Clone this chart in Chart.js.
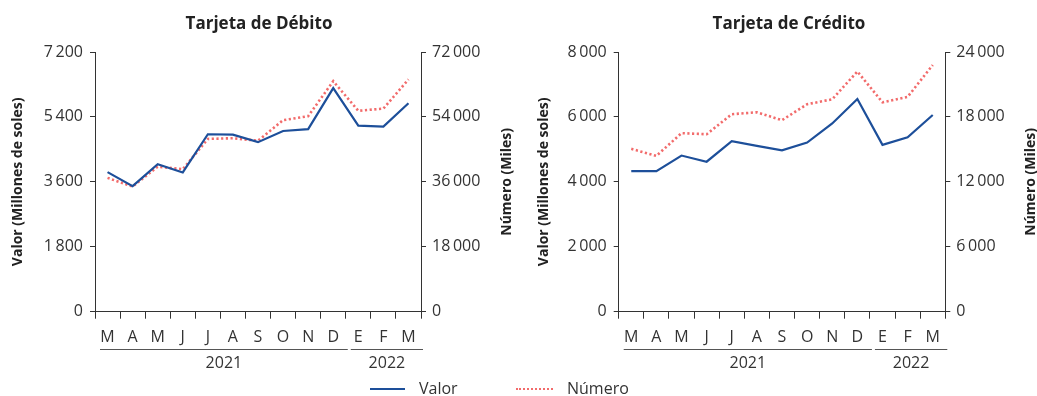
<!DOCTYPE html>
<html><head><meta charset="utf-8">
<script src="https://cdn.jsdelivr.net/npm/chart.js@4.4.1/dist/chart.umd.min.js"></script>
<style>
html,body{margin:0;padding:0;background:#fff;}
#wrap{position:relative;width:1037px;height:396px;overflow:hidden;font-family:"Open Sans",sans-serif;}
canvas{position:absolute;top:0;}
#c1{left:0;} #c2{left:518px;}
.leg{position:absolute;font-size:16px;color:#333;line-height:20px;top:378px;white-space:nowrap;}
.sw{position:absolute;height:0;}
</style></head><body>
<div id="wrap">
<canvas id="c1" width="518" height="396"></canvas>
<canvas id="c2" width="519" height="396"></canvas>
<div class="sw" style="left:370px;width:35px;border-top:2px solid #1d4f9a;top:388px"></div>
<div class="leg" style="left:419px">Valor</div>
<div class="sw" style="left:516px;width:37px;border-top:2px dotted #f26b6b;top:388px"></div>
<div class="leg" style="left:567px">Número</div>
</div>
<script>
const months = ['M','A','M','J','J','A','S','O','N','D','E','F','M'];
const years = ['2021','2022'];
const yearStart = [0, 10];
const yearEnd = [9, 12];

const debitoValor  = [3870,3480,4090,3860,4920,4910,4700,5010,5060,6200,5160,5130,5780];
const debitoNumero = [37100,34700,40200,39500,47900,48100,47400,53100,54200,63900,55700,56300,64400];
const creditoValor  = [4330,4330,4810,4620,5250,5110,4970,5210,5800,6550,5140,5370,6060];
const creditoNumero = [15050,14400,16500,16400,18250,18430,17700,19170,19630,22200,19350,19850,22800];

const debitoValorTicks  = [0,1800,3600,5400,7200];
const debitoNumeroTicks = [0,18000,36000,54000,72000];
const creditoValorTicks  = [0,2000,4000,6000,8000];
const creditoNumeroTicks = [0,6000,12000,18000,24000];

const FAM = '"Open Sans", sans-serif';
const TXT = '#333';

function fmt(v){
  v = Math.round(v);
  if (v < 1000) return String(v);
  const th = Math.floor(v/1000), r = v % 1000;
  return th + '\u2009' + String(r).padStart(3,'0');
}

const decor = {
  id:'decor',
  afterDraw(chart, args, o){
    const ctx = chart.ctx, xs = chart.scales.x, ca = chart.chartArea;
    ctx.save();
    ctx.fillStyle = '#222';
    ctx.font = 'bold 17px ' + FAM;
    ctx.textAlign = 'center'; ctx.textBaseline = 'middle';
    ctx.fillText(o.title, o.titleX, 24);
    ctx.save();
    ctx.translate(o.rTitleX, (ca.top + ca.bottom)/2);
    ctx.rotate(-Math.PI/2);
    ctx.font = 'bold 14px ' + FAM;
    ctx.fillText('Número (Miles)', 0, 0);
    ctx.restore();
    ctx.strokeStyle = '#555'; ctx.lineWidth = 1;
    ctx.font = '16px ' + FAM; ctx.fillStyle = TXT;
    for (let i = 0; i < years.length; i++){
      const a = xs.getPixelForValue(yearStart[i] - 0.5) + 5;
      const b = xs.getPixelForValue(yearEnd[i] + 0.5) + 2;
      ctx.beginPath(); ctx.moveTo(a, 349.5); ctx.lineTo(b, 349.5); ctx.stroke();
      ctx.fillText(years[i], (a+b)/2, 363.5);
    }
    ctx.restore();
  }
};

function makeChart(id, title, valor, numero, lTicks, rTicks, g){
  return new Chart(document.getElementById(id), {
    type:'line',
    data:{labels:months, datasets:[
      {label:'Valor', data:valor, yAxisID:'y', borderColor:'#1d4f9a', borderWidth:2.2, pointRadius:0, tension:0, fill:false},
      {label:'Número', data:numero, yAxisID:'y1', borderColor:'#f26b6b', borderWidth:2.6, borderDash:[2.2,2.5], pointRadius:0, tension:0, fill:false}
    ]},
    options:{
      responsive:false, animation:false, devicePixelRatio:1,
      layout:{padding:{top:52,bottom:0,left:0,right:0}},
      plugins:{legend:{display:false}, tooltip:{enabled:false},
        decor:{title:title, titleX:g.titleX, rTitleX:g.rTitleX}},
      scales:{
        x:{type:'category', offset:true,
          grid:{display:true, drawOnChartArea:false, offset:true, tickLength:7, color:'#333', lineWidth:1},
          border:{display:true, color:'#333', width:1},
          ticks:{color:TXT, font:{family:FAM, size:16}, padding:9.5, maxRotation:0, autoSkip:false},
          afterFit(s){ s.height = 396 - 311.7; }},
        y:{position:'left', min:lTicks[0], max:lTicks[lTicks.length-1],
          afterBuildTicks(s){ s.ticks = lTicks.map(v=>({value:v})); },
          ticks:{callback:fmt, color:TXT, font:{family:FAM, size:16}, padding:7},
          grid:{drawOnChartArea:false, tickLength:5, color:'#333'},
          border:{display:true, color:'#333', width:1},
          title:{display:true, text:'Valor (Millones de soles)', color:'#222', font:{family:FAM, size:14, weight:'bold'}, padding:{top:g.ltp, bottom:0}},
          afterFit(s){ s.width = g.lw; }},
        y1:{position:'right', min:rTicks[0], max:rTicks[rTicks.length-1],
          afterBuildTicks(s){ s.ticks = rTicks.map(v=>({value:v})); },
          ticks:{callback:fmt, color:TXT, font:{family:FAM, size:16}, padding:6},
          grid:{drawOnChartArea:false, tickLength:5, color:'#333'},
          border:{display:true, color:'#333', width:1},
          afterFit(s){ s.width = g.rw; }}
      }
    },
    plugins:[decor]
  });
}

makeChart('c1', 'Tarjeta de Débito', debitoValor, debitoNumero, debitoValorTicks, debitoNumeroTicks,
  {lw:95, rw:97, ltp:10, titleX:259, rTitleX:507});
makeChart('c2', 'Tarjeta de Crédito', creditoValor, creditoNumero, creditoValorTicks, creditoNumeroTicks,
  {lw:100.7, rw:91.7, ltp:18, titleX:271, rTitleX:513});
</script>
</body></html>
